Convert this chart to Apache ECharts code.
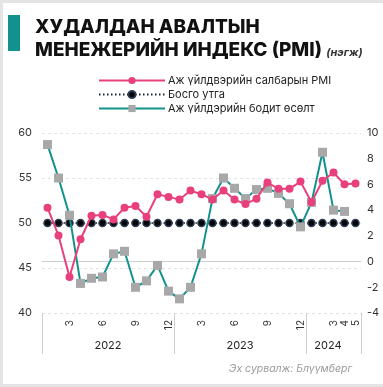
<!DOCTYPE html>
<html>
<head>
<meta charset="utf-8">
<script src="https://cdn.jsdelivr.net/npm/echarts@6/dist/echarts.min.js"></script>
<style>
  html, body { margin: 0; padding: 0; background: #fff; }
  #frame { position: absolute; left: 0; top: 0; width: 383px; height: 387px; box-sizing: border-box;
           border-top: 3px solid #e4e4e4; border-left: 3px solid #e4e4e4; border-bottom: 3px solid #e4e4e4; }
  #chart { position: absolute; left: 0; top: 0; width: 383px; height: 387px; }
</style>
</head>
<body>
<div id="frame"></div>
<div id="chart"></div>
<script>
// Monthly categories, Jan 2022 – May 2024
const months = [
  '2022-01','2022-02','2022-03','2022-04','2022-05','2022-06','2022-07','2022-08','2022-09','2022-10','2022-11','2022-12',
  '2023-01','2023-02','2023-03','2023-04','2023-05','2023-06','2023-07','2023-08','2023-09','2023-10','2023-11','2023-12',
  '2024-01','2024-02','2024-03','2024-04','2024-05'
];

// Manufacturing PMI (left axis)
const pmi = [51.7, 48.6, 44.0, 48.2, 50.8, 50.9, 50.4, 51.7, 51.9, 50.7, 53.2, 52.9,
             52.6, 53.6, 53.2, 52.6, 53.6, 52.6, 52.1, 52.7, 54.5, 53.8, 53.8, 54.6,
             52.3, 54.7, 55.6, 54.3, 54.4];

// Threshold value (left axis)
const threshold = [50, 50, 50, 50, 50, 50, 50, 50, 50, 50, 50, 50,
                   50, 50, 50, 50, 50, 50, 50, 50, 50, 50, 50, 50,
                   50, 50, 50, 50, 50];

// Real industrial growth, % (right axis)
const growth = [9.1, 6.5, 3.6, -1.7, -1.3, -1.2, 0.6, 0.8, -2.0, -1.5, -0.3, -2.3,
                -2.9, -2.0, 0.6, 4.9, 6.5, 5.7, 4.9, 5.6, 5.7, 5.3, 4.5, 2.7,
                4.6, 8.5, 4.0, 3.9, null];

const monthTickLabels = ['3', '6', '9', '12'];
const lateMonthLabels = ['3', '4', '5'];
const yearLabelIndex = { 6: '2022', 18: '2023', 26: '2024' };

const names = {
  pmi: 'Аж үйлдвэрийн салбарын PMI',
  thr: 'Босго утга',
  grw: 'Аж үйлдэрийн бодит өсөлт'
};

const FONT = 'Inter, "Noto Sans", sans-serif';
const PINK = '#e8407c';
const TEAL = '#13918c';
const GRAY = '#a8a8a8';
const NAVY = '#1a2436';

const chart = echarts.init(document.getElementById('chart'));

chart.setOption({
  animation: false,
  textStyle: { fontFamily: FONT },
  title: {
    left: 30,
    top: 11,
    text: '{b|ХУДАЛДАН АВАЛТЫН}\n{b|МЕНЕЖЕРИЙН ИНДЕКС (PMI)} {u|(нэгж)}',
    textStyle: {
      rich: {
        b: { fontFamily: FONT, fontSize: 19, fontWeight: 800, color: '#111', lineHeight: 23 },
        u: { fontFamily: FONT, fontSize: 11, fontStyle: 'italic', color: '#333', lineHeight: 23, padding: [4, 0, 0, 0] }
      }
    }
  },
  graphic: [
    { type: 'rect', left: 8, top: 15, shape: { width: 12, height: 36 }, style: { fill: TEAL } },
    {
      type: 'text', right: 31, top: 363,
      style: { text: 'Эх сурвалж: Блүүмберг', fill: '#9a9a9a', fontFamily: FONT, fontSize: 10.5, fontStyle: 'italic' }
    }
  ],
  legend: {
    orient: 'vertical',
    left: 93,
    top: 70,
    itemWidth: 66,
    itemHeight: 9,
    itemGap: 3,
    data: [names.pmi, names.thr, names.grw],
    textStyle: { fontFamily: FONT, fontSize: 11, color: '#222', padding: [0, 0, 0, -2] }
  },
  grid: { left: 42, right: 22, top: 133, bottom: 74, containLabel: false },
  xAxis: [
    {
      type: 'category',
      data: months,
      boundaryGap: true,
      axisLine: { lineStyle: { color: '#cfcfcf', width: 1 } },
      axisTick: { show: false },
      axisLabel: {
        rotate: 90,
        margin: 7,
        fontSize: 10,
        color: '#333',
        fontFamily: FONT,
        interval: function (idx, val) {
          const m = val.slice(5).replace(/^0/, '');
          const y = val.slice(0, 4);
          if (y === '2024') return lateMonthLabels.indexOf(m) >= 0;
          return monthTickLabels.indexOf(m) >= 0;
        },
        formatter: function (val) { return val.slice(5).replace(/^0/, ''); }
      }
    },
    {
      type: 'category',
      data: months,
      position: 'bottom',
      boundaryGap: true,
      axisLine: { show: false },
      axisTick: {
        show: true,
        length: 41,
        lineStyle: { color: '#cfcfcf', width: 1 },
        interval: function (idx) { return idx === 0 || idx === 12 || idx === 24; }
      },
      axisLabel: {
        margin: 27,
        fontSize: 11,
        color: '#222',
        fontFamily: FONT,
        padding: [0, 11, 0, 0],
        interval: function (idx) { return yearLabelIndex[idx] !== undefined; },
        formatter: function (val) { return val.slice(0, 4); }
      },
      splitLine: { show: false }
    }
  ],
  yAxis: [
    {
      type: 'value',
      min: 40, max: 60, interval: 5,
      axisLine: { show: false },
      axisTick: { show: false },
      axisLabel: { margin: 10, fontSize: 11, color: '#333', fontFamily: FONT },
      splitLine: { lineStyle: { color: '#e2e2e2', type: [3, 3], width: 1 } }
    },
    {
      type: 'value',
      min: -4, max: 10, interval: 2,
      axisLine: { show: false },
      axisTick: { show: false },
      axisLabel: { margin: 6, fontSize: 11, color: '#333', fontFamily: FONT },
      splitLine: { show: false }
    }
  ],
  series: [
    {
      name: names.thr,
      type: 'line',
      data: threshold,
      yAxisIndex: 0,
      symbol: 'circle',
      symbolSize: 7,
      showAllSymbol: true,
      z: 1,
      lineStyle: { color: NAVY, width: 1.5, type: [1.5, 2.5] },
      itemStyle: { color: '#050608', borderColor: '#2d3b52', borderWidth: 1.5 }
    },
    {
      name: names.pmi,
      type: 'line',
      data: pmi,
      yAxisIndex: 0,
      symbol: 'circle',
      symbolSize: 8,
      showAllSymbol: true,
      z: 3,
      lineStyle: { color: PINK, width: 2 },
      itemStyle: { color: PINK }
    },
    {
      name: names.grw,
      type: 'line',
      data: growth,
      yAxisIndex: 1,
      symbol: 'rect',
      symbolSize: 9,
      showAllSymbol: true,
      z: 2,
      lineStyle: { color: TEAL, width: 2 },
      itemStyle: { color: GRAY }
    }
  ]
});
</script>
</body>
</html>
